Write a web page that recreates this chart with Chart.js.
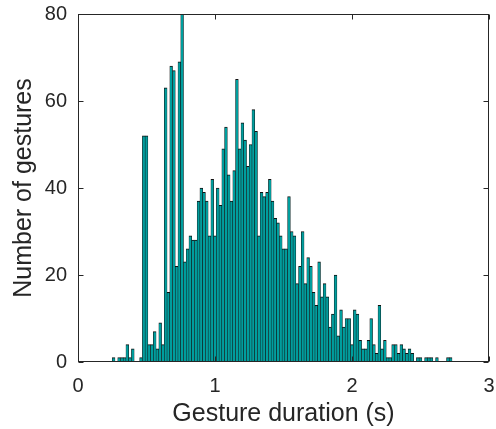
<!DOCTYPE html>
<html>
<head>
<meta charset="utf-8">
<script src="https://cdn.jsdelivr.net/npm/chart.js@4.4.1/dist/chart.umd.min.js"></script>
<style>
  html, body { margin: 0; padding: 0; background: #fff; }
  canvas { display: block; }
</style>
</head>
<body>
<canvas id="hist" width="496" height="429"></canvas>
<script>
// histogram bins: 0.02 s wide, first bin starts at 0.25 s
const binStart = 0.25;
const binWidth = 0.02;
const counts = [
  1, 0, 1, 1, 1, 4, 1, 3, 0, 0, 1, 52, 52, 4, 4, 7, 3, 9, 4, 63, 16,
  68, 67, 22, 69, 84, 23, 26, 29, 28, 28, 37, 40, 39, 37, 29, 42, 29, 40, 36,
  49, 54, 43, 37, 44, 65, 49, 55, 51, 45, 50,
  58, 53, 29, 39, 38, 39, 42, 37, 33, 32, 29, 26, 26, 38, 30, 29, 18, 22, 30,
  18, 24, 22, 16, 13, 23, 15,
  18, 15, 8, 11, 20, 6, 12, 8, 10, 10, 4, 12, 11, 5, 3, 3, 5, 10, 4, 2, 13, 3,
  5, 1, 1,
  4, 4, 2, 4, 3, 2, 3, 2, 0, 1, 1, 0, 1, 1, 1, 0, 1, 0, 0, 0, 1, 1
];
const xTicks = [0, 1, 2, 3];
const yTicks = [0, 20, 40, 60, 80];
const xLabel = "Gesture duration (s)";
const yLabel = "Number of gestures";

const FONT = "'Liberation Sans', Arial, Helvetica, sans-serif";
const INK = "#262626";

const points = counts.map((c, i) => ({ x: binStart + binWidth * (i + 0.5), y: c }));

// matlab style box with inward ticks
const axisBox = {
  id: "axisBox",
  afterDatasetsDraw(chart) {
    const { ctx, chartArea: a, scales } = chart;
    const L = Math.round(a.left) + 0.5, R = Math.round(a.right) - 0.5;
    const T = Math.round(a.top) + 0.5, B = Math.round(a.bottom) - 0.5;
    ctx.save();
    ctx.strokeStyle = INK;
    ctx.lineWidth = 1;
    ctx.strokeRect(L, T, R - L, B - T);
    ctx.beginPath();
    xTicks.forEach(v => {
      const px = Math.round(scales.x.getPixelForValue(v)) + 0.5;
      ctx.moveTo(px, B); ctx.lineTo(px, B - 5);
      ctx.moveTo(px, T); ctx.lineTo(px, T + 5);
    });
    yTicks.forEach(v => {
      const py = Math.round(scales.y.getPixelForValue(v)) + 0.5;
      ctx.moveTo(L, py); ctx.lineTo(L + 5, py);
      ctx.moveTo(R, py); ctx.lineTo(R - 5, py);
    });
    ctx.stroke();
    ctx.restore();
  }
};

new Chart(document.getElementById("hist"), {
  type: "bar",
  data: {
    datasets: [{
      data: points,
      backgroundColor: "#009e9e",
      borderColor: "#111",
      borderWidth: { top: 1, left: 0.55, right: 0.55, bottom: 0 },
      borderSkipped: false,
      barPercentage: 1,
      categoryPercentage: 1
    }]
  },
  options: {
    responsive: false,
    animation: false,
    layout: { padding: { top: 14, right: 7, left: 0, bottom: 0 } },
    plugins: { legend: { display: false }, tooltip: { enabled: false } },
    scales: {
      x: {
        type: "linear",
        offset: false,
        min: 0, max: 3,
        afterBuildTicks: s => { s.ticks = xTicks.map(v => ({ value: v })); },
        afterFit: s => { s.height = 67; s.paddingLeft = 0; s.paddingRight = 0; },
        grid: { display: false, drawTicks: false },
        border: { display: false },
        ticks: { color: INK, padding: 12, font: { family: FONT, size: 20 } },
        title: { display: true, text: xLabel, color: INK, padding: { top: 0, bottom: 0 },
                 font: { family: FONT, size: 25 } }
      },
      y: {
        min: 0, max: 80,
        afterBuildTicks: s => { s.ticks = yTicks.map(v => ({ value: v })); },
        afterFit: s => { s.width = 78; s.paddingTop = 0; s.paddingBottom = 0; },
        grid: { display: false, drawTicks: false },
        border: { display: false },
        ticks: { color: INK, padding: 11, font: { family: FONT, size: 20 } },
        title: { display: true, text: yLabel, color: INK, padding: { top: 9, bottom: 0 },
                 font: { family: FONT, size: 25 } }
      }
    }
  },
  plugins: [axisBox]
});
</script>
</body>
</html>
